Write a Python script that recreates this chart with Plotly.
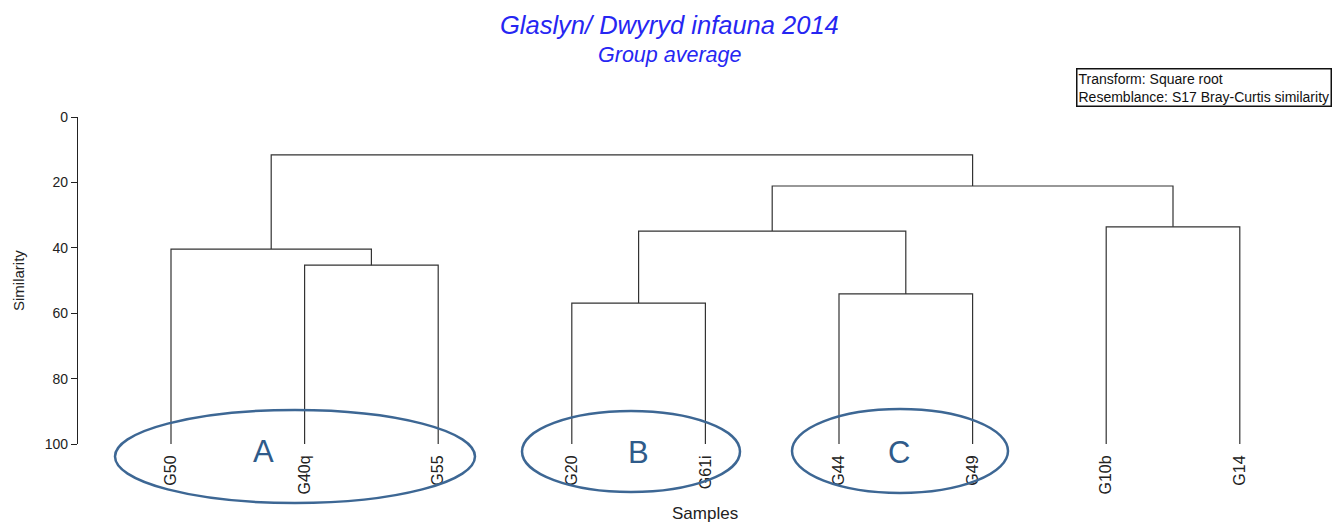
import plotly.graph_objects as go

# ---- data ----
leaves = ["G50", "G40q", "G55", "G20", "G61i", "G44", "G49", "G10b", "G14"]
# merges: (left child, right child, similarity); ints refer to earlier merges
merge_left = ["G40q", "G50", "G20", "G44", 2, "G10b", 4, 1]
merge_right = ["G55", 0, "G61i", "G49", 3, "G14", 5, 6]
merge_sim = [45.3, 40.4, 56.9, 54.1, 34.9, 33.6, 21.1, 11.6]
y_ticks = [0, 20, 40, 60, 80, 100]
groups = ["A", "B", "C"]

# ---- layout geometry (page pixels; the page body adds an 8px offset) ----
OFF = 8
W, H = 1341 - 2 * OFF, 523 - OFF
# plot area in page pixels
PL, PR, PT, PB = 78, 1300, 117, 444
L, T = PL - OFF, PT - OFF
R = W - (PR - OFF)
B = H - (PB - OFF)
pw, ph = PR - PL, PB - PT


def px(x):
    return (x - PL) / pw


def py(y):
    return (PB - y) / ph


# ---- build dendrogram segments ----
pos = {}
for i, name in enumerate(leaves):
    pos[name] = (i, 100.0)
xs, ys = [], []
for k, (a, b, s) in enumerate(zip(merge_left, merge_right, merge_sim)):
    xa, ha = pos[a]
    xb, hb = pos[b]
    xs += [xa, xa, xb, xb, None]
    ys += [ha, s, s, hb, None]
    pos[k] = ((xa + xb) / 2, s)

fig = go.Figure()
fig.add_trace(go.Scatter(x=xs, y=ys, mode="lines",
                         line=dict(color="#333333", width=1.2),
                         hoverinfo="skip", showlegend=False))

# ellipses around groups (page pixel boxes converted to paper coords)
ell_boxes = [(115, 410, 475, 503), (522, 411, 740, 492), (792, 409, 1008, 493)]
letter_pos = [(263, 451), (638, 452), (899, 452)]
for (x0, y0, x1, y1) in ell_boxes:
    fig.add_shape(type="circle", xref="paper", yref="paper",
                  x0=px(x0), x1=px(x1), y0=py(y1), y1=py(y0),
                  line=dict(color="#3d6794", width=2.5), layer="above")
for g, (lx, ly) in zip(groups, letter_pos):
    fig.add_annotation(text=g, xref="paper", yref="paper", x=px(lx), y=py(ly),
                       showarrow=False, xanchor="center", yanchor="middle",
                       font=dict(family="Arial, Liberation Sans", size=31, color="#2f5b8a"))

font = "Arial, Liberation Sans, sans-serif"
# titles
fig.add_annotation(text="<i>Glaslyn/ Dwyryd infauna 2014</i>", xref="paper", yref="paper",
                   x=px(669), y=py(25), showarrow=False, xanchor="center", yanchor="middle",
                   font=dict(family=font, size=25.5, color="#2626f2"))
fig.add_annotation(text="<i>Group average</i>", xref="paper", yref="paper",
                   x=px(669), y=py(55), showarrow=False, xanchor="center", yanchor="middle",
                   font=dict(family=font, size=21.5, color="#2626f2"))
# info box
fig.add_annotation(text="Transform: Square root<br>Resemblance: S17 Bray-Curtis similarity",
                   xref="paper", yref="paper", x=px(1332), y=py(68),
                   showarrow=False, xanchor="right", yanchor="top", align="left",
                   bordercolor="#111111", borderwidth=1.5, borderpad=1, bgcolor="white",
                   font=dict(family=font, size=14, color="#111111"))
# axis titles
fig.add_annotation(text="Similarity", xref="paper", yref="paper", x=px(18), y=py(281),
                   showarrow=False, textangle=-90, xanchor="center", yanchor="middle",
                   font=dict(family=font, size=15, color="#222222"))
fig.add_annotation(text="Samples", xref="paper", yref="paper", x=px(705), y=py(513),
                   showarrow=False, xanchor="center", yanchor="middle",
                   font=dict(family=font, size=17, color="#222222"))

fig.update_layout(
    width=W, height=H, autosize=False,
    margin=dict(l=L, r=R, t=T, b=B),
    paper_bgcolor="white", plot_bgcolor="white",
    xaxis=dict(range=[(PL - 171) / 133.6, (PR - 171) / 133.6],
               tickvals=list(range(len(leaves))), ticktext=leaves,
               tickangle=-90, ticks="outside", ticklen=4, tickcolor="rgba(0,0,0,0)",
               showline=False, showgrid=False, zeroline=False,
               tickfont=dict(family=font, size=16, color="#222222")),
    yaxis=dict(range=[100, 0], tickvals=y_ticks, ticks="outside", ticklen=6,
               tickcolor="#222222", showline=True, linecolor="#222222", linewidth=1.2,
               showgrid=False, zeroline=False,
               tickfont=dict(family=font, size=14, color="#222222")),
)

fig.write_html("out.html")
